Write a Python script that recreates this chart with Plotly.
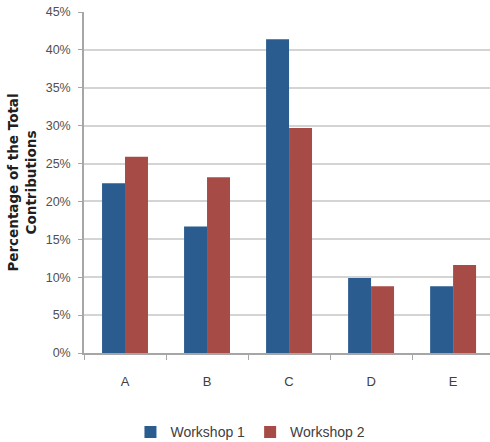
import plotly.graph_objects as go

# Share of total contributions per category, two workshops (percent)
categories = ["A", "B", "C", "D", "E"]
workshop_1 = [22.4, 16.7, 41.4, 9.9, 8.8]
workshop_2 = [25.9, 23.2, 29.7, 8.8, 11.6]
y_ticks = [0, 5, 10, 15, 20, 25, 30, 35, 40, 45]
y_tick_labels = [f"{v}%" for v in y_ticks]

sans = "Liberation Sans, Arial, sans-serif"

fig = go.Figure()
fig.add_trace(go.Bar(name="Workshop 1", x=categories, y=workshop_1,
                     marker=dict(color="#2B5C8F", line=dict(width=0))))
fig.add_trace(go.Bar(name="Workshop 2", x=categories, y=workshop_2,
                     marker=dict(color="#A74B46", line=dict(width=0))))

fig.update_layout(
    width=490, height=442,
    margin=dict(l=84, r=0, t=12, b=89),
    paper_bgcolor="white", plot_bgcolor="white",
    barmode="group", bargap=0.44, bargroupgap=0,
    font=dict(family=sans, color="#404040"),
    legend=dict(orientation="h", x=0.41, xanchor="center",
                yref="container", y=0.022, yanchor="middle",
                font=dict(size=14, color="#404040", family=sans),
                itemwidth=30, traceorder="normal", tracegroupgap=0),
    xaxis=dict(range=[-0.5, 4.45], showline=True, linecolor="#a6a6a6", linewidth=1.5,
               ticks="outside", ticklen=5, tickcolor="#a6a6a6", tickson="boundaries",
               tickfont=dict(size=13, color="#404040"), ticklabelstandoff=16,
               showgrid=False),
    yaxis=dict(range=[0, 45], tickvals=y_ticks, ticktext=y_tick_labels,
               showline=True, linecolor="#a6a6a6", linewidth=1.5,
               ticks="outside", ticklen=4, tickcolor="#a6a6a6",
               gridcolor="#d4d4d4", gridwidth=2,
               tickfont=dict(size=12.5, color="#505050"), ticklabelstandoff=5,
               title=dict(text="<b>Percentage of the Total<br>Contributions</b>",
                          font=dict(family="DejaVu Sans", size=13.5, color="#202020"),
                          standoff=6)),
)

fig.write_html("out.html")
